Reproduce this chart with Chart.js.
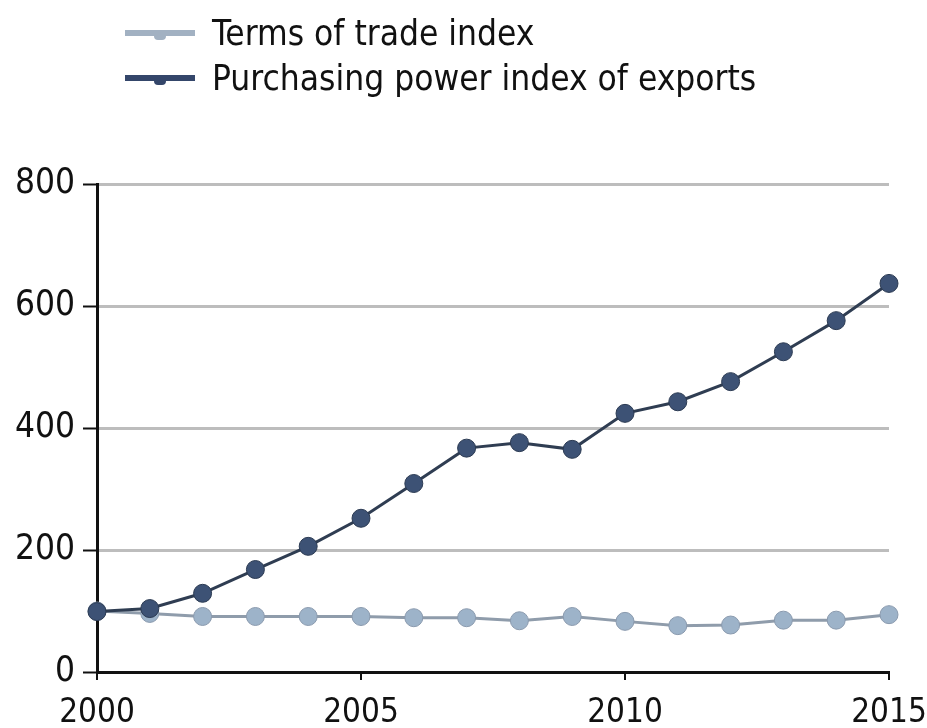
<!DOCTYPE html>
<html>
<head>
<meta charset="utf-8">
<script src="https://cdn.jsdelivr.net/npm/chart.js@4/dist/chart.umd.min.js"></script>
<style>
  html, body { margin: 0; padding: 0; background: #fff; }
  #wrap { position: relative; width: 927px; height: 728px; }
  #legend { position: absolute; left: 125px; top: 10px; font-family: "Liberation Sans Narrow", "DejaVu Sans Condensed", sans-serif; font-size: 35px; color: #111; }
  .row { display: flex; align-items: center; height: 45px; }
  .swatch { width: 70px; height: 6px; margin-right: 17px; position: relative; }
  .swatch::after { content: ""; position: absolute; left: 29px; top: 4px; width: 12px; height: 6px; background: inherit; border-radius: 0 0 4px 4px; }
</style>
</head>
<body>
<div id="wrap">
  <div id="legend"></div>
  <canvas id="chart" width="927" height="728"></canvas>
</div>
<script>
const years = [2000, 2001, 2002, 2003, 2004, 2005, 2006, 2007, 2008, 2009, 2010, 2011, 2012, 2013, 2014, 2015]
const termsOfTrade = [100, 96, 91, 91, 91, 91, 89, 89, 84, 91, 83, 76, 77, 85, 85, 94]
const purchasingPower = [99, 104, 129, 168, 206, 252, 309, 367, 376, 365, 424, 443, 476, 525, 576, 637]
const seriesNames = ['Terms of trade index', 'Purchasing power index of exports']
const yTicks = [0, 200, 400, 600, 800]
const xTicks = [2000, 2005, 2010, 2015]

const lightLine = '#8f9cab'
const lightFill = '#9db3c9'
const darkLine = '#2f3d52'
const darkFill = '#3d5275'

const toPoints = (vals) => years.map((y, i) => ({x: y, y: vals[i]}))

const datasets = [
  {
    label: seriesNames[0],
    data: toPoints(termsOfTrade),
    borderColor: lightLine,
    backgroundColor: lightFill,
    pointBackgroundColor: lightFill,
    pointBorderColor: '#8a9aae',
    borderWidth: 3,
    pointRadius: 9,
    pointBorderWidth: 1,
    order: 2,
  },
  {
    label: seriesNames[1],
    data: toPoints(purchasingPower),
    borderColor: darkLine,
    backgroundColor: darkFill,
    pointBackgroundColor: darkFill,
    pointBorderColor: '#2b3a52',
    borderWidth: 3,
    pointRadius: 9,
    pointBorderWidth: 1,
    order: 1,
  }
]

// html legend, rows stacked like the original
const legendEl = document.getElementById('legend')
datasets.forEach(ds => {
  const row = document.createElement('div')
  row.className = 'row'
  const sw = document.createElement('span')
  sw.className = 'swatch'
  sw.style.background = ds.borderColor === darkLine ? '#34466a' : '#a2b1c2'
  const txt = document.createElement('span')
  txt.textContent = ds.label
  row.appendChild(sw)
  row.appendChild(txt)
  legendEl.appendChild(row)
})

const tickFont = {family: '"Liberation Sans Narrow", "DejaVu Sans Condensed", sans-serif', size: 33}

new Chart(document.getElementById('chart'), {
  type: 'line',
  data: {datasets},
  options: {
    responsive: false,
    animation: false,
    layout: {padding: {top: 184, right: 0, left: 0, bottom: 0}},
    plugins: {
      legend: {display: false},
      tooltip: {enabled: false}
    },
    elements: {line: {tension: 0}},
    clip: false,
    scales: {
      x: {
        type: 'linear',
        min: xTicks[0],
        max: xTicks[xTicks.length - 1],
        afterBuildTicks: (axis) => { axis.ticks = xTicks.map(v => ({value: v})) },
        afterFit: (axis) => {
          axis.height = 56
          axis.paddingLeft = 0
          axis.paddingRight = 38
        },
        ticks: {color: '#111', font: tickFont, padding: 14, maxRotation: 0, callback: v => String(v)},
        grid: {drawOnChartArea: false, tickLength: 8, tickColor: '#111', lineWidth: 2},
        border: {color: '#111', width: 3}
      },
      y: {
        min: yTicks[0],
        max: yTicks[yTicks.length - 1],
        afterBuildTicks: (axis) => { axis.ticks = yTicks.map(v => ({value: v})) },
        afterFit: (axis) => { axis.width = 97 },
        ticks: {color: '#111', font: {...tickFont, size: 35}, padding: 8},
        grid: {color: '#bdbdbd', lineWidth: 3, tickLength: 14, tickColor: '#111', tickWidth: 2},
        border: {color: '#111', width: 3}
      }
    }
  }
})
</script>
</body>
</html>
